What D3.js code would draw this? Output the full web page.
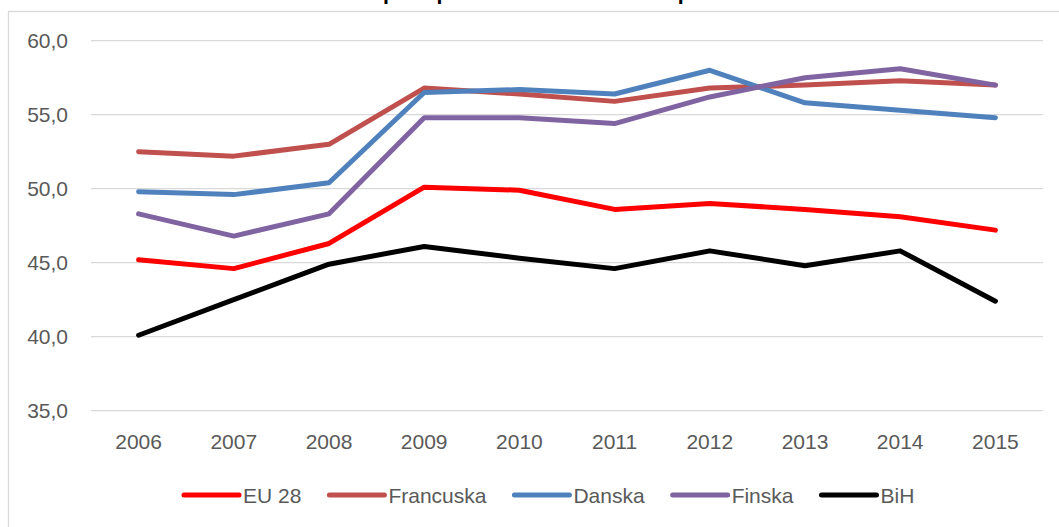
<!DOCTYPE html>
<html>
<head>
<meta charset="utf-8">
<script src="https://cdn.jsdelivr.net/npm/d3@7"></script>
<style>
  body { margin: 0; background: #fff; }
  svg { display: block; font-family: "Liberation Sans", Arial, sans-serif; }
  .tick-label { fill: #595959; font-size: 21px; }
</style>
</head>
<body>
<svg width="1059" height="527"></svg>
<script>
// data
const years = ["2006", "2007", "2008", "2009", "2010", "2011", "2012", "2013", "2014", "2015"];
const yTicks = [35, 40, 45, 50, 55, 60];
const seriesNames = ["EU 28", "Francuska", "Danska", "Finska", "BiH"];
const eu28 = [45.2, 44.6, 46.3, 50.1, 49.9, 48.6, 49.0, 48.6, 48.1, 47.2];
const francuska = [52.5, 52.2, 53.0, 56.8, 56.4, 55.9, 56.8, 57.0, 57.3, 57.0];
const danska = [49.8, 49.6, 50.4, 56.5, 56.7, 56.4, 58.0, 55.8, 55.3, 54.8];
const finska = [48.3, 46.8, 48.3, 54.8, 54.8, 54.4, 56.2, 57.5, 58.1, 57.0];
const bih = [40.1, 42.5, 44.9, 46.1, 45.3, 44.6, 45.8, 44.8, 45.8, 42.4];
const colors = ["#ff0000", "#c0504d", "#4f81bd", "#8064a2", "#000000"];

const series = [eu28, francuska, danska, finska, bih].map((values, i) => ({
  name: seriesNames[i],
  color: colors[i],
  values: values
}));

const svg = d3.select("svg"),
  margin = { top: 40.7, right: 16, bottom: 116.3, left: 91 },
  width = +svg.attr("width") - margin.left - margin.right,
  height = +svg.attr("height") - margin.top - margin.bottom;

// chart frame (runs off the right and bottom edges)
svg.append("rect")
  .attr("x", 8.5).attr("y", 11.5)
  .attr("width", 1100).attr("height", 600)
  .attr("fill", "none")
  .attr("stroke", "#d9d9d9")
  .attr("stroke-width", 1.3);

// title, cut off at the top of the picture as in the reference
svg.append("text")
  .attr("x", 547).attr("y", -0.5)
  .attr("text-anchor", "middle")
  .attr("font-weight", "bold")
  .attr("font-size", 20)
  .attr("textLength", 635)
  .attr("lengthAdjust", "spacingAndGlyphs")
  .text("Grafikon 1: Stopa zaposlenosti u EU i BiH u periodu 2006-2015");

const x = d3.scaleBand().domain(years).range([0, width]).padding(0),
  y = d3.scaleLinear().domain([35, 60]).range([height, 0]);

const g = svg.append("g")
  .attr("transform", `translate(${margin.left},${margin.top})`);

// gridlines
g.append("g")
  .selectAll("line")
  .data(yTicks)
  .enter()
  .append("line")
  .attr("x1", 0).attr("x2", width)
  .attr("y1", (d) => y(d)).attr("y2", (d) => y(d))
  .attr("stroke", "#d9d9d9")
  .attr("stroke-width", 1.3);

// y axis labels
g.append("g")
  .selectAll("text")
  .data(yTicks)
  .enter()
  .append("text")
  .attr("class", "tick-label")
  .attr("x", -23)
  .attr("y", (d) => y(d))
  .attr("dy", "0.36em")
  .attr("text-anchor", "end")
  .text((d) => d3.format(".1f")(d).replace(".", ","));

// x axis labels
g.append("g")
  .selectAll("text")
  .data(years)
  .enter()
  .append("text")
  .attr("class", "tick-label")
  .attr("x", (d) => x(d) + x.bandwidth() / 2)
  .attr("y", height + 38.3)
  .attr("text-anchor", "middle")
  .text((d) => d);

const line = d3.line()
  .x((d, i) => x(years[i]) + x.bandwidth() / 2)
  .y((d) => y(d));

g.append("g")
  .selectAll("path")
  .data(series)
  .enter()
  .append("path")
  .attr("d", (d) => line(d.values))
  .attr("fill", "none")
  .attr("stroke", (d) => d.color)
  .attr("stroke-width", 5)
  .attr("stroke-linecap", "round")
  .attr("stroke-linejoin", "round");

// legend
const legend = svg.append("g").attr("transform", "translate(0,495)");
let lx = 184;
series.forEach((s) => {
  legend.append("line")
    .attr("x1", lx).attr("x2", lx + 55)
    .attr("y1", 0).attr("y2", 0)
    .attr("stroke", s.color)
    .attr("stroke-width", 5)
    .attr("stroke-linecap", "round");
  const t = legend.append("text")
    .attr("class", "tick-label")
    .attr("x", lx + 59)
    .attr("y", 0)
    .attr("dy", "0.36em")
    .text(s.name);
  lx += 59 + t.node().getComputedTextLength() + 28;
});
</script>
</body>
</html>
